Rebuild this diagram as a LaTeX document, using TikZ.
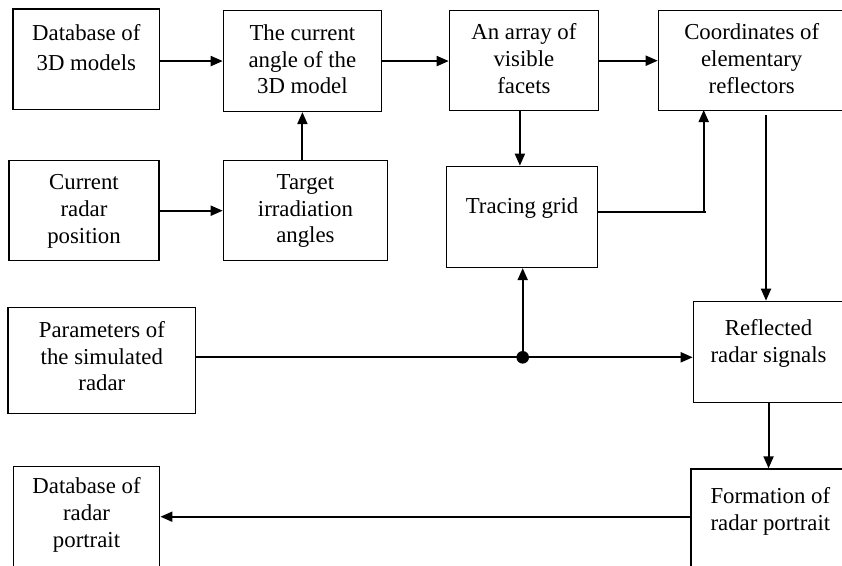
\documentclass[tikz,border=0pt]{standalone}
\usepackage{fontspec}
\setmainfont{Liberation Serif}
\usetikzlibrary{arrows.meta,calc}
\tikzset{
  box/.style={draw, line width=1.4pt, inner sep=0pt, anchor=north west},
  txt/.style={anchor=north, inner sep=0pt, align=center,
              font=\fontsize{22.8}{26.7}\selectfont},
  flow/.style={line width=1.9pt, -{Triangle[length=12pt,width=10pt]}},
  wire/.style={line width=1.9pt},
}
\begin{document}
\begin{tikzpicture}[x=1pt,y=-1pt]
\useasboundingbox (0,0) rectangle (842,565);
\clip (0,0) rectangle (842,565);
\fill[white] (0,0) rectangle (842,565);

% blocks
\node[box, minimum width=146.7pt, minimum height=100.7pt] (b1) at (12.3,8.3) {};
\node[box, minimum width=158pt,   minimum height=100.7pt] (b2) at (222.7,10) {};
\node[box, minimum width=149pt,   minimum height=100pt]   (b3) at (448.7,10) {};
\node[box, minimum width=186.6pt, minimum height=100pt]   (b4) at (657.7,10) {};
\node[box, minimum width=150pt,   minimum height=100pt]   (b5) at (8.3,160) {};
\node[box, minimum width=164pt,   minimum height=100pt]   (b6) at (222.7,160) {};
\node[box, minimum width=150.7pt, minimum height=101pt]   (b7) at (446,165.7) {};
\node[box, minimum width=187.7pt, minimum height=106pt]   (b8) at (7.3,306.7) {};
\node[box, minimum width=150.3pt, minimum height=101pt]   (b9) at (692.7,300.7) {};
\node[box, minimum width=158.7pt, minimum height=110pt]   (b10) at (690.3,468.3) {};
\node[box, minimum width=146.3pt, minimum height=112pt]   (b11) at (12.7,465.7) {};

% block captions
\node[txt] (t1) at ([yshift=-16.1pt]b1.north) {Database of\\[3.3pt]3D models};
\node[txt] (t2) at ([yshift=-14.4pt]b2.north) {The current\\angle of the\\3D model};
\node[txt] (t3) at ([yshift=-13.4pt]b3.north) {An array of\\visible\\facets};
\node[txt] (t4) at ([yshift=-13.4pt]b4.north) {Coordinates of\\elementary\\reflectors};
\node[txt] (t5) at ([yshift=-14.4pt]b5.north) {Current\\radar\\position};
\node[txt] (t6) at ([yshift=-14.4pt]b6.north) {Target\\irradiation\\angles};
\node[txt] (t7) at ([yshift=-32pt]b7.north) {Tracing grid};
\node[txt] (t8) at ([yshift=-14.4pt]b8.north) {Parameters of\\the simulated\\radar};
\node[txt] (t9) at ([yshift=-18.7pt]b9.north) {Reflected\\radar signals};
\node[txt] (t10) at ([yshift=-18.8pt]b10.north) {Formation of\\radar portrait};
\node[txt] (t11) at ([yshift=-12pt]b11.north) {Database of\\radar\\portrait};

% auxiliary points
\coordinate (tg) at (703.7,110);
\coordinate (ge) at ([yshift=5pt]b7.east);
\coordinate (r4) at (766,115);
\coordinate (j)  at (522.7,357.3);
\coordinate (p)  at (690.3,516.7);

% connectors
\draw[flow] (b1.east |- b2.west) -- (b2.west);
\draw[flow] (b5.east) -- (b5.east -| b6.west);
\draw[flow] (b6.north -| b2.south) -- (b2.south);
\draw[flow] (b2.east) -- (b2.east -| b3.west);
\draw[flow] (b3.east) -- (b3.east -| b4.west);
\draw[flow] ([xshift=-4pt]b3.south) -- ([xshift=-4pt]b3.south |- b7.north);
\draw[wire] (ge) -- ([xshift=2pt]tg |- ge);
\draw[flow] (tg |- ge) -- (tg);
\draw[flow] (r4) -- (r4 |- b9.north);
\draw[wire] (b8.east |- j) -- (j);
\draw[flow] (j) -- (j -| b9.west);
\draw[flow] (j) -- (j |- b7.south);
\fill (j) circle[radius=6.3pt];
\draw[flow] (b9.south) -- (b9.south |- b10.north);
\draw[flow] (p) -- (p -| b11.east);
\end{tikzpicture}
\end{document}
